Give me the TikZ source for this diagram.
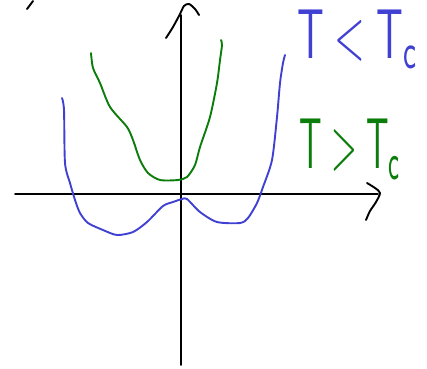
\documentclass[tikz,border=0pt]{standalone}
\usepackage{graphicx}
\definecolor{penblue}{RGB}{64,64,210}
\definecolor{pengreen}{RGB}{10,125,10}
\begin{document}
\begin{tikzpicture}[x=1pt,y=-1pt,
  pen/.style={line width=1.9pt,line cap=round,line join=round},
  axis/.style={pen,black},
  lowT/.style={pen,penblue},
  highT/.style={pen,pengreen}]
\useasboundingbox (0,0) rectangle (427,368);
% axes
\coordinate (ytop) at (181,15);
\coordinate (ybot) at (181,365);
\coordinate (xl) at (15,194);
\coordinate (xr) at (378,194);
\draw[axis] (ytop) -- (ybot);
\draw[axis] (xl) -- (xr);
% hand-drawn arrow heads
\draw[axis] plot[smooth,tension=0.5] coordinates {(166,38) (173,27) (180,14) (184,6) (189,4) (195,9) (199,15)};
\draw[axis] plot[smooth,tension=0.5] coordinates {(367,183) (375,188) (380,193) (376,202) (370,211) (366,220)};
\draw[axis] (27,9) -- (33,1);
% T < Tc curve
\draw[lowT] plot[smooth,tension=0.45] coordinates {
 (62,98) (64,110) (65,163) (70,183) (75,200) (80,213) (88,223) (103,230)
 (117,235) (133,232) (147,222) (163,206) (173,202) (182,199) (187,199)
 (200,212) (217,222) (240,223) (248,218) (257,203) (263,187) (272,160)
 (277,117) (280,83) (283,63) (285,55)};
% T > Tc curve
\draw[highT] plot[smooth,tension=0.45] coordinates {
 (91,53) (93,68) (100,83) (110,107) (127,127) (133,140) (140,160)
 (148,173) (160,180) (178,180) (187,177) (195,165) (200,147) (210,117)
 (217,83) (220,60) (222,45) (221,40)};
% labels
\node[anchor=north west,inner sep=0pt,text=penblue] (lblLow) at (297,9)
  {\resizebox{121pt}{49pt}{$\mathsf{T}<\mathsf{T}_{\mathsf{c}}$}};
\node[anchor=north west,inner sep=0pt,text=pengreen] (lblHigh) at (299,118)
  {\resizebox{102pt}{50pt}{$\mathsf{T}>\mathsf{T}_{\mathsf{c}}$}};
\end{tikzpicture}
\end{document}
